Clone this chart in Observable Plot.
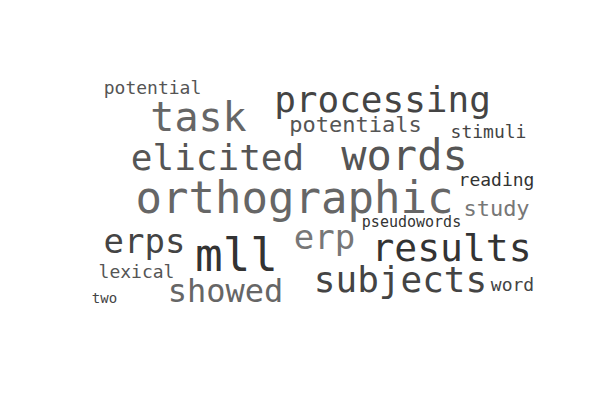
<!DOCTYPE html>
<html>
<head>
<meta charset="utf-8">
<script src="https://cdn.jsdelivr.net/npm/d3@7"></script>
<script src="https://cdn.jsdelivr.net/npm/@observablehq/plot@0.6"></script>
<style>body{margin:0;background:#fff}</style>
</head>
<body>
<div id="chart"></div>
<script>
const words = ["potential","task","processing","potentials","stimuli","elicited","words","orthographic","reading","study","pseudowords","erps","mll","erp","results","subjects","lexical","showed","word","two"];
const freq = [18,40,36,22,18,36,42,44,18,22,15,34,46,34,38,36,18,32,18,14];
const layoutX = [152,198,382,355,488,217,404,294,496,496,411,144,236,324,451,400,136,225,512,104];
const layoutY = [88,118,100,124,132,158,156,198,180,208,222,242,256,238,248,280,272,291,285,298];
const shade = ["#555","#666","#444","#555","#444","#555","#555","#666","#333","#777","#333","#444","#333","#777","#333","#444","#555","#666","#444","#444"];

const data = words.map((w, i) => ({word: w, size: freq[i], x: layoutX[i], y: layoutY[i], color: shade[i]}));

const chart = Plot.plot({
  width: 600,
  height: 400,
  margin: 0,
  x: {domain: [0, 600], axis: null},
  y: {domain: [0, 400], reverse: true, axis: null},
  marks: [
    Plot.text(data, {
      x: "x", y: "y", text: "word",
      fontSize: d => d.size,
      fill: d => d.color,
      fontFamily: "DejaVu Sans Mono",
      textAnchor: "middle",
      lineAnchor: "middle"
    })
  ]
});
d3.select("#chart").append(() => chart);
</script>
</body>
</html>
